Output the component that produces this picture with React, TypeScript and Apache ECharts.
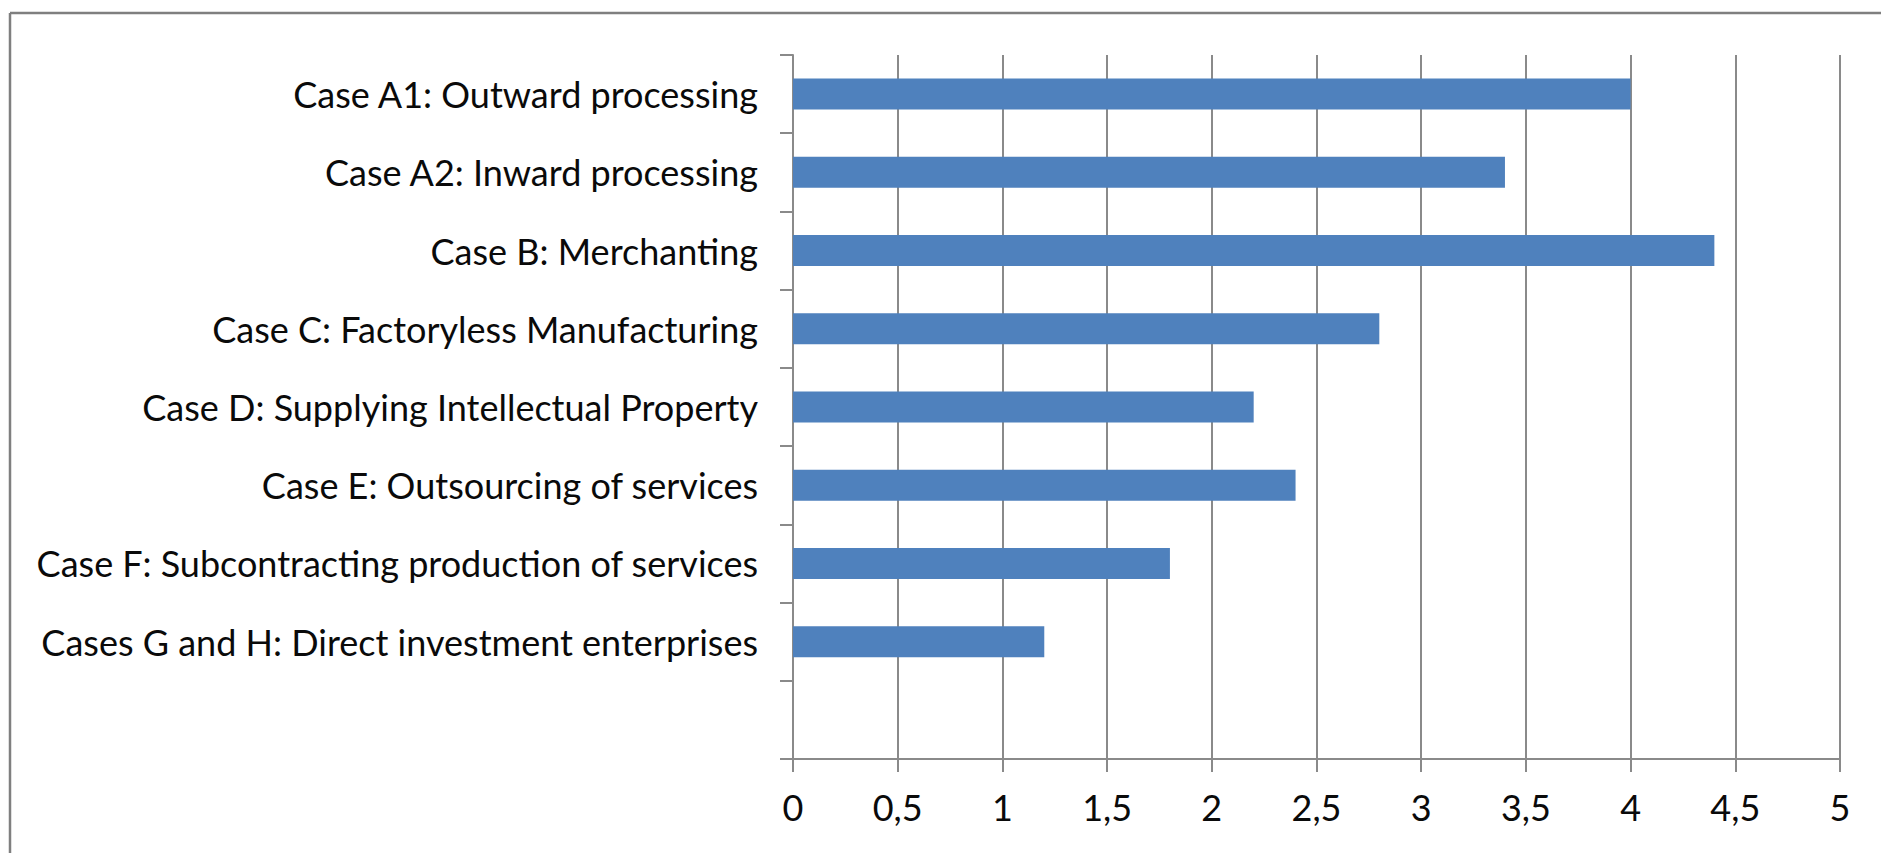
import React, { useEffect, useRef } from "react";
import * as echarts from "echarts";

const categories: string[] = [
  "Case A1: Outward processing",
  "Case A2: Inward processing",
  "Case B: Merchanting",
  "Case C: Factoryless Manufacturing",
  "Case D: Supplying Intellectual Property",
  "Case E: Outsourcing of services",
  "Case F: Subcontracting production of services",
  "Cases G and H: Direct investment enterprises",
  "",
];

const values: (number | string)[] = [4.0, 3.4, 4.4, 2.8, 2.2, 2.4, 1.8, 1.2, "-"];

const xMin = 0;
const xMax = 5;
const xInterval = 0.5;

const FONT = "Lato, 'Open Sans', sans-serif";
const GRID = "#8a8a8a";

export default function App() {
  const ref = useRef<HTMLDivElement>(null);
  useEffect(() => {
    if (!ref.current) return;
    const chart = echarts.init(ref.current, undefined, { renderer: "svg" });
    chart.setOption({
      animation: false,
      backgroundColor: "#ffffff",
      grid: { left: 793, right: 41, top: 55, bottom: 94, containLabel: false },
      xAxis: {
        type: "value",
        min: xMin,
        max: xMax,
        interval: xInterval,
        axisLine: { show: true, lineStyle: { color: GRID, width: 2 } },
        axisTick: { show: true, length: 13, lineStyle: { color: GRID, width: 2 } },
        splitLine: { show: true, lineStyle: { color: GRID, width: 2 } },
        axisLabel: {
          margin: 30,
          color: "#0a0a0a",
          fontFamily: FONT,
          fontSize: 36,
          formatter: (v: number) => String(v).replace(".", ","),
        },
      },
      yAxis: {
        type: "category",
        data: categories,
        inverse: true,
        axisLine: { show: true, lineStyle: { color: GRID, width: 2 } },
        axisTick: { show: true, length: 13, alignWithLabel: false, lineStyle: { color: GRID, width: 2 } },
        axisLabel: {
          margin: 35,
          color: "#0a0a0a",
          fontFamily: FONT,
          fontSize: 36,
        },
        splitLine: { show: false },
      },
      series: [
        {
          type: "bar",
          data: values,
          barWidth: 31,
          itemStyle: { color: "#4f81bd" },
        },
      ],
      graphic: [
        { type: "line", shape: { x1: 10, y1: 13, x2: 1881, y2: 13 }, style: { stroke: "#7f7f7f", lineWidth: 2.5 } },
        { type: "line", shape: { x1: 10, y1: 13, x2: 10, y2: 853 }, style: { stroke: "#7f7f7f", lineWidth: 2.5 } },
      ],
    });
    return () => chart.dispose();
  }, []);
  return (
    <div
      ref={ref}
      style={{ position: "fixed", left: 0, top: 0, width: 1881, height: 853, background: "#fff" }}
    />
  );
}
